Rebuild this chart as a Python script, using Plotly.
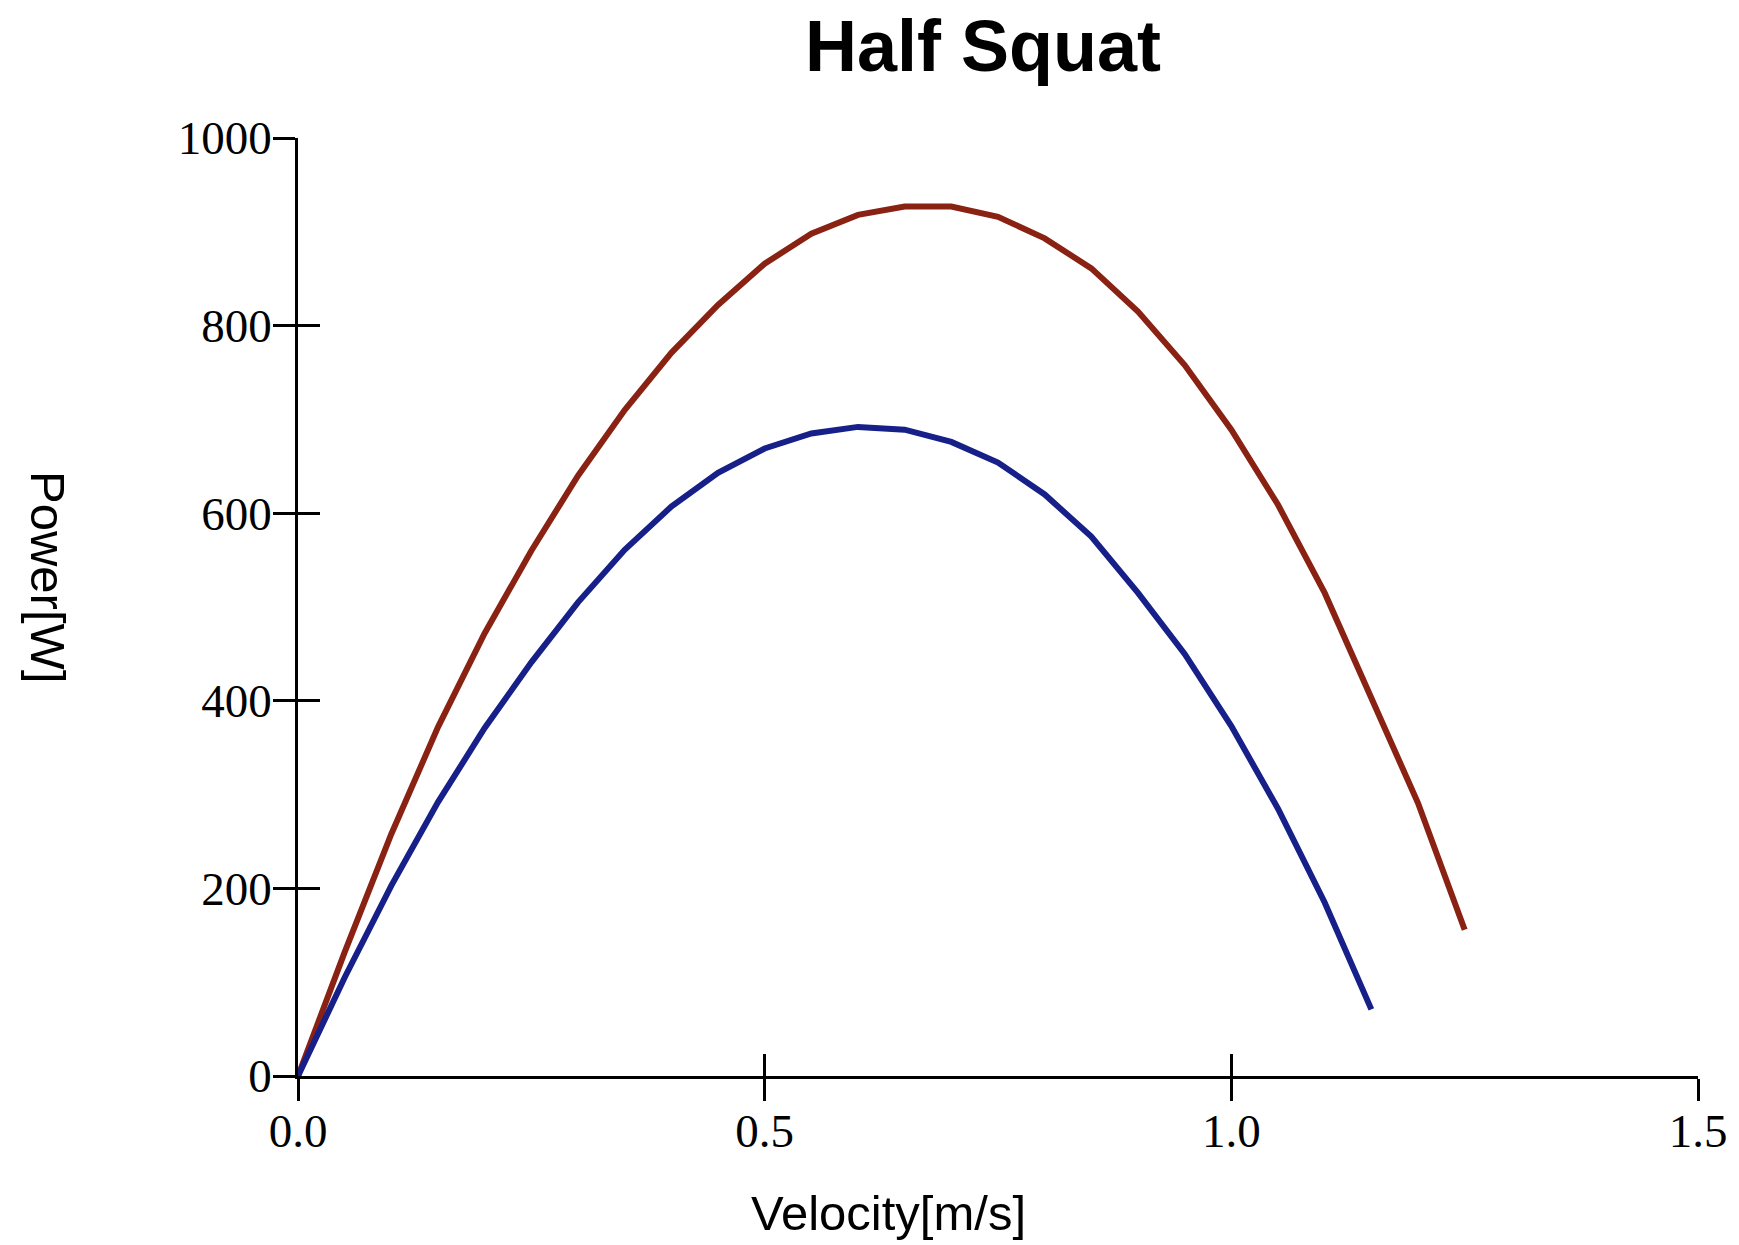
import plotly.graph_objects as go

# ---- data ----
velocity_red = [0.00, 0.05, 0.10, 0.15, 0.20, 0.25, 0.30, 0.35, 0.40, 0.45, 0.50, 0.55, 0.60,
                0.65, 0.70, 0.75, 0.80, 0.85, 0.90, 0.95, 1.00, 1.05, 1.10, 1.15, 1.20, 1.25]
power_red = [0, 132, 258, 372, 472, 560, 640, 710, 771, 822, 866, 898, 918,
             927, 927, 916, 893, 861, 815, 758, 689, 609, 515, 402, 291, 156]

velocity_blue = [0.00, 0.05, 0.10, 0.15, 0.20, 0.25, 0.30, 0.35, 0.40, 0.45, 0.50, 0.55,
                 0.60, 0.65, 0.70, 0.75, 0.80, 0.85, 0.90, 0.95, 1.00, 1.05, 1.10, 1.15]
power_blue = [0, 105, 203, 292, 371, 441, 505, 561, 607, 643, 669, 685,
              692, 689, 676, 654, 620, 575, 515, 450, 373, 285, 185, 71]

x_tick_vals = [0.0, 0.5, 1.0, 1.5]
x_tick_text = ["0.0", "0.5", "1.0", "1.5"]
y_tick_vals = [0, 200, 400, 600, 800, 1000]
y_tick_text = ["0", "200", "400", "600", "800", "1000"]

RED = "rgb(138,34,20)"
BLUE = "rgb(22,32,136)"
TICK_FONT = dict(family="Liberation Serif", size=47, color="black")
LABEL_FONT = dict(family="Liberation Sans", size=49, color="black")

fig = go.Figure()
fig.add_trace(go.Scatter(x=velocity_red, y=power_red, mode="lines",
                         line=dict(color=RED, width=6), xaxis="x", yaxis="y",
                         showlegend=False, hoverinfo="skip"))
fig.add_trace(go.Scatter(x=velocity_blue, y=power_blue, mode="lines",
                         line=dict(color=BLUE, width=6), xaxis="x2", yaxis="y2",
                         showlegend=False, hoverinfo="skip"))

axis_common = dict(showgrid=False, zeroline=False, fixedrange=True)

fig.update_layout(
    width=1739, height=1245,
    margin=dict(l=298, r=41, t=138, b=169, pad=0),
    paper_bgcolor="white", plot_bgcolor="white",
    title=dict(text="<b>Half Squat</b>", font=dict(family="Liberation Sans", size=72, color="black"),
               xref="container", yref="container", x=0.5653, y=0.963,
               xanchor="center", yanchor="middle"),
    xaxis=dict(range=[0, 1.5], tickvals=x_tick_vals, ticktext=x_tick_text,
               showline=True, linecolor="black", linewidth=2.5,
               ticks="outside", ticklen=22, tickwidth=2.5, tickcolor="black",
               ticklabelstandoff=-10,
               tickfont=TICK_FONT, anchor="y", **axis_common),
    yaxis=dict(range=[0, 1000], tickvals=y_tick_vals, ticktext=y_tick_text,
               showline=True, linecolor="black", linewidth=2.5,
               ticks="outside", ticklen=22, tickwidth=2.5, tickcolor="black",
               ticklabelstandoff=-8,
               tickfont=TICK_FONT, anchor="x", **axis_common),
    xaxis2=dict(range=[0, 1.5], tickvals=x_tick_vals, showticklabels=False,
                overlaying="x", anchor="y2", side="bottom", showline=False,
                ticks="inside", ticklen=22, tickwidth=2.5, tickcolor="black", **axis_common),
    yaxis2=dict(range=[0, 1000], tickvals=y_tick_vals, showticklabels=False,
                overlaying="y", anchor="x2", side="left", showline=False,
                ticks="inside", ticklen=22, tickwidth=2.5, tickcolor="black", **axis_common),
    annotations=[
        dict(text="Velocity[m/s]", xref="paper", yref="paper", x=0.422, y=-0.146,
             xanchor="center", yanchor="middle", showarrow=False, font=LABEL_FONT),
        dict(text="Power[W]", xref="paper", yref="paper", x=-0.1786, y=0.532,
             xanchor="center", yanchor="middle", showarrow=False, textangle=90,
             font=LABEL_FONT),
    ],
)

fig.write_html("out.html")
